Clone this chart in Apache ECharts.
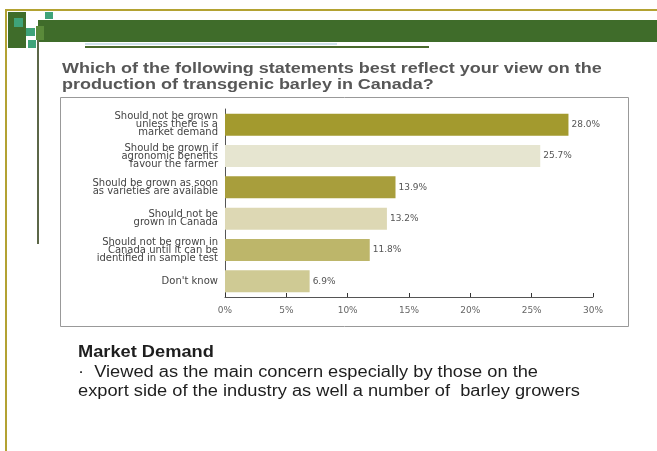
<!DOCTYPE html>
<html><head><meta charset="utf-8">
<script src="https://cdn.jsdelivr.net/npm/echarts@6/dist/echarts.min.js"></script>
<style>html,body{margin:0;padding:0;background:#fff}#c{width:657px;height:451px}</style>
</head><body><div id="c"></div>
<script>
const categories = [
  'Should not be grown\nunless there is a\nmarket demand',
  'Should be grown if\nagronomic benefits\nfavour the farmer',
  'Should be grown as soon\nas varieties are available',
  'Should not be\ngrown in Canada',
  'Should not be grown in\nCanada until it can be\nidentified in sample test',
  "Don't know"
];
const values = [28.0, 25.7, 13.9, 13.2, 11.8, 6.9];
const barColors = ['#a39a2e', '#e6e5d0', '#a89e3c', '#ddd8b4', '#bdb66a', '#cfca94'];
const xTicks = [0, 5, 10, 15, 20, 25, 30];
const titleText = 'Which of the following statements best reflect your view on the\nproduction of transgenic barley in Canada?';
const noteHead = 'Market Demand';
const noteBody = '\u00b7  Viewed as the main concern especially by those on the\nexport side of the industry as well a number of  barley growers';

const chart = echarts.init(document.getElementById('c'));
const FONT = '"Liberation Sans", Arial, sans-serif';
const WFONT = '"DejaVu Sans", sans-serif';
chart.setOption({
  animation: false,
  backgroundColor: '#fff',
  grid: { left: 225, right: 64, top: 109, bottom: 154, containLabel: false },
  xAxis: {
    type: 'value', min: xTicks[0], max: xTicks[xTicks.length - 1], interval: 5,
    axisLine: { show: true, lineStyle: { color: '#555', width: 1 } },
    axisTick: { show: true, inside: true, length: 4, lineStyle: { color: '#333' } },
    splitLine: { show: false },
    axisLabel: { formatter: v => v + '%', fontFamily: WFONT, fontSize: 9, color: '#666', margin: 9 }
  },
  yAxis: {
    type: 'category', data: categories, inverse: true,
    axisLine: { show: true, lineStyle: { color: '#555', width: 1 } },
    axisTick: { show: false },
    axisLabel: { fontFamily: WFONT, fontSize: 10, color: '#444', lineHeight: 8, margin: 7, align: 'right' }
  },
  series: [{
    type: 'bar', barCategoryGap: '30%',
    data: values.map((v, i) => ({ value: v, itemStyle: { color: barColors[i] } })),
    label: { show: true, position: 'right', distance: 3, formatter: p => p.value.toFixed(1) + '%',
      fontFamily: WFONT, fontSize: 9, color: '#555' }
  }],
  graphic: [
    // outer slide frame
    { type: 'rect', shape: { x: 5, y: 9, width: 652, height: 2 }, style: { fill: '#b3a232' }, silent: true },
    { type: 'rect', shape: { x: 5, y: 9, width: 2, height: 442 }, style: { fill: '#b3a232' }, silent: true },
    // green header band
    { type: 'rect', shape: { x: 38, y: 20, width: 619, height: 22 }, style: { fill: '#3f6c2a' }, silent: true },
    // decorative squares
    { type: 'rect', shape: { x: 8, y: 12, width: 18, height: 36 }, style: { fill: '#3f6c2a' }, silent: true },
    { type: 'rect', shape: { x: 14, y: 18, width: 9, height: 9 }, style: { fill: '#3fa37a' }, silent: true },
    { type: 'rect', shape: { x: 26, y: 12, width: 12, height: 8 }, style: { fill: '#ffffff' }, silent: true },
    { type: 'rect', shape: { x: 45, y: 12, width: 8, height: 7 }, style: { fill: '#3fa37a' }, silent: true },
    { type: 'rect', shape: { x: 26, y: 28, width: 9, height: 8 }, style: { fill: '#3fa37a' }, silent: true },
    { type: 'rect', shape: { x: 28, y: 40, width: 8, height: 8 }, style: { fill: '#3fa37a' }, silent: true },
    { type: 'rect', shape: { x: 36, y: 26, width: 8, height: 14 }, style: { fill: '#5a8a3a' }, silent: true },
    // vertical accent line
    { type: 'rect', shape: { x: 37, y: 40, width: 2, height: 204 }, style: { fill: '#5c6748' }, silent: true },
    // lines under band
    { type: 'rect', shape: { x: 85, y: 43, width: 252, height: 2 }, style: { fill: '#cfe2ea' }, silent: true },
    { type: 'rect', shape: { x: 85, y: 46, width: 344, height: 2 }, style: { fill: '#4a6a2c' }, silent: true },
    // chart frame
    { type: 'rect', shape: { x: 60.5, y: 97.5, width: 568, height: 229 }, style: { fill: 'none', stroke: '#999', lineWidth: 1 }, silent: true, z: -1 },
    // title
    { type: 'text', x: 62, y: 61, scaleX: 1.285, scaleY: 1, style: { text: titleText, font: 'bold 14px ' + FONT, fill: '#575757', lineHeight: 16 }, silent: true },
    // bottom text
    { type: 'text', x: 78, y: 345, scaleX: 1.14, scaleY: 1, style: { text: noteHead, font: 'bold 16px ' + FONT, fill: '#1e1e1e' }, silent: true },
    { type: 'text', x: 78, y: 363, scaleX: 1.14, scaleY: 1, style: { text: noteBody, font: '16px ' + FONT, fill: '#1e1e1e', lineHeight: 19 }, silent: true }
  ]
});
</script></body></html>
